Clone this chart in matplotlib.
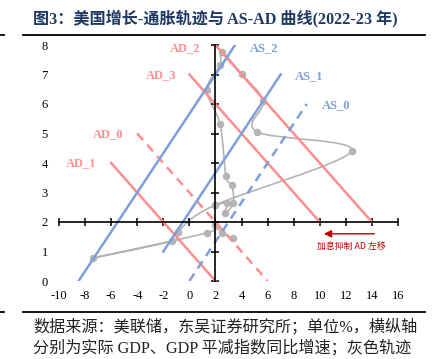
import numpy as np
import matplotlib.pyplot as plt
from matplotlib.path import Path
from matplotlib.patches import PathPatch
from matplotlib.lines import Line2D

plt.rcParams['font.family'] = ['Liberation Serif', 'Noto Sans CJK SC']
plt.rcParams['axes.unicode_minus'] = False

# AD curves (start / end points)
ad_names = ['AD_0', 'AD_1', 'AD_2', 'AD_3']
ad_x = [[-4, 6], [-6, 2], [2, 14], [0, 10]]
ad_y = [[5, 0], [4, 0], [8, 2], [7, 2]]
ad_dashed = [True, False, False, False]

# AS curves
as_names = ['AS_0', 'AS_1', 'AS_2']
as_x = [[0, 9], [-2, 7], [-8.5, 3.5]]
as_y = [[0, 6], [1, 7], [0, 8]]
as_dashed = [True, False, False]

# US real GDP yoy vs GDP deflator yoy, quarterly
gdp = [3.32, 2.48, 1.96, 1.32, -7.42, -1.31, -0.9, 1.96, 12.44, 5.16, 5.67,
       4.0, 2.48, 2.35, 1.33, 2.35, 2.81, 3.24, 3.37, 2.73, 2.86, 1.96]
deflator = [1.46, 1.63, 1.89, 1.63, 0.78, 1.36, 1.66, 2.57, 4.40, 5.06, 6.1,
            7.02, 7.77, 7.32, 6.47, 5.32, 3.55, 3.27, 2.65, 2.29, 2.63, 2.57]

xticks = np.arange(-10, 17, 2)
yticks = np.arange(0, 9, 1)

red = '#FF8E8E'
blue = '#7F9FDA'
gray = '#B4B4B4'


def smooth_path(x, y):
    # excel-like smoothed line: bezier with catmull-rom control points
    p = np.column_stack([x, y])
    n = len(p)
    verts = [p[0]]
    codes = [Path.MOVETO]
    for i in range(n - 1):
        p0 = p[i - 1] if i > 0 else p[i]
        p3 = p[i + 2] if i + 2 < n else p[i + 1]
        c1 = p[i] + (p[i + 1] - p0) / 6
        c2 = p[i + 1] - (p3 - p[i]) / 6
        verts += [c1, c2, p[i + 1]]
        codes += [Path.CURVE4] * 3
    return Path(verts, codes)


fig = plt.figure(figsize=(4.36, 3.59), dpi=100)
ax = fig.add_axes([59/436, 1 - 281/359, 339/436, 236/359])

# trajectory
ax.add_patch(PathPatch(smooth_path(gdp, deflator), fill=False, edgecolor=gray,
                       lw=1.2, zorder=1))
ax.plot(gdp, deflator, 'o', color=gray, ms=4.4, zorder=1)

for xs, ys, d in zip(ad_x, ad_y, ad_dashed):
    ax.plot(xs, ys, color=red, lw=1.8, ls=(0, (3.5, 2.5)) if d else '-', zorder=2)
for xs, ys, d in zip(as_x, as_y, as_dashed):
    ax.plot(xs, ys, color=blue, lw=1.8, ls=(0, (3.5, 2.5)) if d else '-', zorder=2)

ad_lab = [(-6.2, 4.97), (-8.3, 3.98), (-0.3, 7.88), (-2.2, 6.98)]
as_lab = [(11.25, 5.96), (9.2, 6.96), (5.75, 7.88)]
for name, (tx, ty) in zip(ad_names, ad_lab):
    ax.text(tx, ty, name, color=red, fontsize=9, fontweight='bold',
            ha='center', va='center')
for name, (tx, ty) in zip(as_names, as_lab):
    ax.text(tx, ty, name, color=blue, fontsize=9, fontweight='bold',
            ha='center', va='center')

ax.annotate('', xy=(10.1, 1.6), xytext=(14.4, 1.6),
            arrowprops=dict(arrowstyle='-|>', color='#C00000', lw=1,
                            mutation_scale=11))
ax.text(12.45, 1.13, '加息抑制 AD 左移', color='#C00000', fontsize=6.4,
        ha='center', va='center', family=['Noto Sans CJK SC'])

ax.set_xlim(-10, 16)
ax.set_ylim(0, 8)
ax.set_xticks(xticks)
ax.set_yticks(yticks)
ax.spines['left'].set_visible(False)
ax.spines['bottom'].set_visible(False)
ax.spines['top'].set_position(('data', 2))
ax.spines['right'].set_position(('data', 2))
for s in ['top', 'right']:
    ax.spines[s].set_linewidth(1.2)
ax.tick_params(axis='x', bottom=False, top=True, labelbottom=True,
               labeltop=False, direction='inout', length=5.5, width=1.1,
               pad=3.8, labelsize=9)
ax.tick_params(axis='y', left=False, right=True, labelleft=True,
               labelright=False, direction='inout', length=5.5, width=1.1,
               pad=5.2, labelsize=9)
ax.patch.set_visible(False)

# header / footer
fig.text(33/436, 1 - 18/359, '图3：美国增长-通胀轨迹与 AS-AD 曲线(2022-23 年)',
         fontsize=11.6, fontweight='bold', color='#1F3864', va='center')
for y in [1 - 35/359, 1 - 312/359]:
    fig.add_artist(Line2D([23/436, 425/436], [y, y], color='black', lw=1.3))
    fig.add_artist(Line2D([0, 4/436], [y, y], color='black', lw=1.3))
fig.text(33/436, 1 - 327/359, '数据来源：美联储，东吴证券研究所；单位%，横纵轴',
         fontsize=11.6, color='#222222', va='center')
fig.text(33/436, 1 - 348/359, '分别为实际 GDP、GDP 平减指数同比增速；灰色轨迹',
         fontsize=11.6, color='#222222', va='center')

fig.savefig('out.png', dpi=100)
